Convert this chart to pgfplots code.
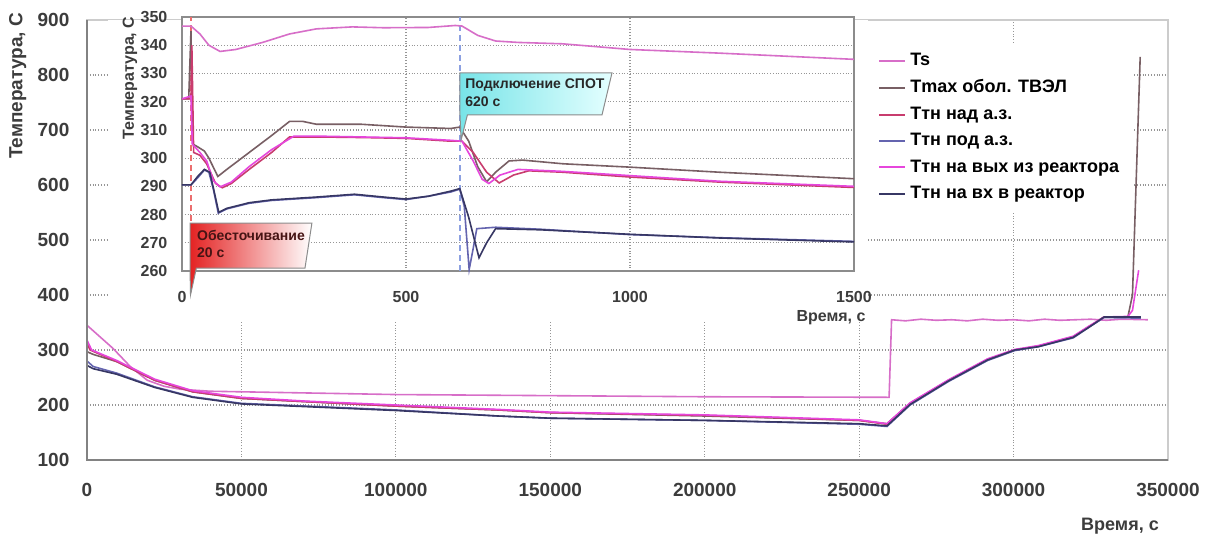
\documentclass[border=0pt]{standalone}
\usepackage{fontspec}
\setmainfont{Liberation Sans}
\usepackage{pgfplots}
\pgfplotsset{compat=1.18}

\definecolor{cTs}{RGB}{215,110,200}
\definecolor{cTmax}{RGB}{120,95,100}
\definecolor{cNad}{RGB}{200,60,110}
\definecolor{cPod}{RGB}{100,100,175}
\definecolor{cVyh}{RGB}{230,70,220}
\definecolor{cVh}{RGB}{55,55,100}
\definecolor{cGrid}{RGB}{150,150,150}
\definecolor{cFrame}{RGB}{140,140,140}
\definecolor{cTick}{RGB}{60,60,60}

\begin{document}
\begin{tikzpicture}
\useasboundingbox (-43.5pt,-38pt) rectangle (559.5pt,230pt);

% main chart, whole run
\begin{axis}[
  at={(0,0)}, anchor=south west,
  scale only axis, width=540.5pt, height=220pt,
  xmin=0, xmax=350000, ymin=100, ymax=900,
  xtick={0,50000,...,350000}, ytick={100,200,...,900},
  scaled x ticks=false,
  /pgf/number format/fixed,
  /pgf/number format/1000 sep={},
  /pgf/number format/assume math mode=true,
  grid=major, grid style={densely dotted, cGrid, line width=0.6pt},
  major tick length=0pt,
  axis line style={draw=gray!40, line width=0.8pt},
  clip=false,
  ticklabel style={font=\fontsize{9.5}{10}\selectfont\bfseries, text=cTick},
  xticklabel style={yshift=-8pt},
  yticklabel style={xshift=-5.3pt},
  xlabel={Время, с}, ylabel={Температура, С},
  label style={font=\fontsize{9}{10}\selectfont\bfseries, text=cTick},
  xlabel style={at={(axis description cs:0.9556,-0.15)}, anchor=center},
  ylabel style={at={(axis description cs:-0.064,0.85)}, anchor=center, font=\fontsize{9.5}{10}\selectfont\bfseries},
  legend style={at={(rel axis cs:0.7225,0.948)}, anchor=north west, draw=none, fill=white,
    font=\fontsize{9}{10}\selectfont\bfseries, inner xsep=5pt, inner ysep=3pt, row sep=1.5pt},
  legend cell align=left,
  legend image code/.code={\draw[#1, line width=1pt] (0pt,0pt) -- (13pt,0pt);},
  every axis plot/.append style={line width=0.8pt},
]
\fill[white] (rel axis cs:0.0194,0.3136) rectangle (rel axis cs:0.7225,1);

\addplot[cTs] coordinates {
(0,345)(3000,330)(8400,303)(14000,270)(19500,245)(25000,234)(30500,228.5)(40000,225)
(50000,224)(100000,219)(150000,217)(200000,215)(259000,214)(259700,214)(260500,355)
(265000,353)(270000,356)(275000,354)(280000,355)(285000,353)(290000,356)(295000,354)
(300000,355)(305000,353)(310000,356)(315000,354)(320000,355)(325000,356)(330000,354)
(335000,356)(343500,355)};
\addlegendentry{Ts}
\addplot[cTmax] coordinates {
(0,297)(2000,292)(9600,279)(21900,245)(34200,224)(50000,212)(71000,206)(100000,198)
(133000,191)(150000,186)(200000,180)(250000,172)(259000,166)(266500,203)(279000,245)
(291600,282)(300400,300)(308000,307)(319300,324)(324300,342)(329300,360)(337000,360)
(338500,400)(341000,833)};
\addlegendentry{Tmax обол. ТВЭЛ}
\addplot[cNad] coordinates {
(0,312)(1000,300)(9600,279)(21900,245)(34200,224)(50000,212)(71000,206)(100000,198)
(133000,191)(150000,186)(200000,181)(250000,172)(259000,165)(266500,203)(279000,245)
(291600,283)(300400,300)(308000,307)(319300,324)(324300,342)(329300,360)(341200,360)};
\addlegendentry{Ттн над а.з.}
\addplot[cPod] coordinates {
(0,280)(2000,270)(9600,258)(21900,233)(34200,215)(50000,203)(71000,198)(100000,191)
(133000,180)(150000,176)(200000,172)(250000,165)(259000,161)(266500,200)(279000,243)
(291600,281)(300400,299)(308000,306)(319300,322)(324300,341)(329300,359)(341200,358)};
\addlegendentry{Ттн под а.з.}
\addplot[cVyh] coordinates {
(0,318)(1500,300)(9600,281)(21900,247)(34200,226)(50000,214)(71000,207)(100000,200)
(133000,192)(150000,187)(200000,182)(250000,173)(259000,166)(266500,204)(279000,246)
(291600,284)(300400,301)(308000,308)(319300,325)(324300,343)(329300,360)(337000,361)
(338500,372)(340500,445)};
\addlegendentry{Ттн на вых из реактора}
\addplot[cVh] coordinates {
(0,272)(2000,266)(9600,256)(21900,232)(34200,214)(50000,202)(71000,197)(100000,190)
(133000,180)(150000,176)(200000,172)(250000,166)(259000,162)(266500,201)(279000,244)
(291600,282)(300400,300)(308000,306)(319300,323)(324300,341)(329300,360)(341200,360)};
\addlegendentry{Ттн на вх в реактор}

\draw[line width=1.3pt, color={rgb,255:red,130;green,130;blue,130}]
  (rel axis cs:0,1) -- (rel axis cs:0,0) -- (rel axis cs:1,0);
\end{axis}

% inset, first 1500 s
\begin{axis}[
  at={(47.5pt,94.5pt)}, anchor=south west,
  scale only axis, width=336pt, height=127pt,
  xmin=0, xmax=1500, ymin=260, ymax=350,
  xtick={0,500,1000,1500}, ytick={260,270,...,350},
  /pgf/number format/fixed,
  /pgf/number format/1000 sep={},
  /pgf/number format/assume math mode=true,
  axis background/.style={fill=white},
  grid=major, grid style={densely dotted, cGrid, line width=0.6pt},
  major tick length=0pt,
  axis line style={draw=cFrame, line width=1pt},
  clip=false,
  ticklabel style={font=\fontsize{8}{9}\selectfont\bfseries, text=cTick},
  xticklabel style={yshift=-6.5pt},
  yticklabel style={xshift=-3.8pt},
  xlabel={Время, с}, ylabel={Температура, С},
  label style={font=\fontsize{8}{9}\selectfont\bfseries, text=cTick},
  xlabel style={at={(axis description cs:0.9658,-0.185)}, anchor=center},
  ylabel style={at={(axis description cs:-0.0774,0.76)}, anchor=center},
  every axis plot/.append style={line width=0.8pt},
]
\addplot[forget plot, densely dashed, line width=0.9pt, color={rgb,255:red,235;green,110;blue,110}] coordinates {(20,260)(20,350)};
\addplot[forget plot, densely dashed, line width=0.9pt, color={rgb,255:red,140;green,160;blue,225}] coordinates {(620,260)(620,350)};

\addplot[cTs] coordinates {
(0,346.8)(20,346.8)(40,344)(60,340)(85,337.8)(120,338.5)(180,341)(240,344)(300,345.8)
(380,346.5)(450,346.2)(550,346.3)(610,347)(625,346.8)(660,343.5)(700,341.5)(750,341)
(850,340.5)(1000,338.5)(1200,337.2)(1500,335)};
\addplot[cTmax] coordinates {
(0,321)(15,321)(20,345)(24,305)(35,304)(50,302.5)(60,300)(80,293.5)(100,296)(150,302)
(200,308)(240,313)(270,313)(300,312)(400,312)(500,311)(600,310.5)(620,311)(640,306)
(660,297)(680,291.6)(700,295)(730,299)(760,299.3)(850,298)(1000,296.8)(1200,295)(1500,292.7)};
\addplot[cNad] coordinates {
(0,321)(20,321)(22,340)(26,302)(40,301)(55,298)(75,291)(90,289.5)(110,291)(150,296)
(200,302)(240,307.5)(300,307.5)(400,307.3)(500,307)(600,306)(625,306)(650,302)(680,295)
(708,291.2)(740,294)(774,295.5)(850,295)(1000,293.3)(1200,291.5)(1500,289.6)};
\addplot[cPod] coordinates {
(0,290.5)(20,290.5)(35,293)(50,295.8)(60,295)(70,289)(81,280.5)(100,282)(150,284)(200,285)
(300,286)(385,287)(450,286)(500,285.3)(550,286.5)(600,288)(620,289)(630,283)(641,260.5)
(650,268)(658,275)(700,275.5)(800,274.8)(1000,272.9)(1200,271.8)(1500,270.5)};
\addplot[cVyh] coordinates {
(0,321)(20,322)(23,305)(40,302)(55,299)(70,292)(85,289.8)(110,291.5)(150,297)(200,303)
(250,307.8)(300,307.8)(400,307.5)(500,307.2)(600,306.3)(625,306)(650,299)(670,292.5)
(685,291)(710,294)(750,296)(850,295.3)(1000,293.8)(1200,291.8)(1500,290)};
\addplot[cVh] coordinates {
(0,290.5)(20,290.5)(35,293.5)(50,296)(62,295)(72,288)(82,280.8)(100,282.2)(150,284.2)
(200,285.2)(300,286.2)(385,287.2)(450,286.2)(500,285.5)(550,286.5)(600,288.3)(620,289.2)
(640,279)(663,264.7)(680,270)(700,275)(800,274.6)(1000,273)(1200,271.7)(1500,270.3)};

% callouts
\path[draw=cFrame, line width=0.5pt, left color={rgb,255:red,228;green,35;blue,35}, right color=white]
  (axis cs:17.9,277) -- (axis cs:290,277) -- (axis cs:274.5,261) -- (axis cs:32,261)
  -- (axis cs:19,251.5) -- (axis cs:17.9,261) -- cycle;
\node[anchor=west, inner sep=0pt, font=\fontsize{7}{8}\selectfont\bfseries, text={rgb,255:red,70;green,20;blue,20}]
  at (axis cs:33,272.6) {Обесточивание};
\node[anchor=west, inner sep=0pt, font=\fontsize{7}{8}\selectfont\bfseries, text={rgb,255:red,70;green,20;blue,20}]
  at (axis cs:33,266.6) {20 с};

\path[draw=cFrame, line width=0.5pt, left color={rgb,255:red,120;green,228;blue,232}, right color={rgb,255:red,228;green,255;blue,255}]
  (axis cs:620.5,330.2) -- (axis cs:959.8,330.2) -- (axis cs:937.5,315.3) -- (axis cs:637,315.3)
  -- (axis cs:623,306.4) -- (axis cs:620.5,315.3) -- cycle;
\node[anchor=west, inner sep=0pt, font=\fontsize{7}{8}\selectfont\bfseries, text={rgb,255:red,40;green,40;blue,40}]
  at (axis cs:631.7,325.9) {Подключение СПОТ};
\node[anchor=west, inner sep=0pt, font=\fontsize{7}{8}\selectfont\bfseries, text={rgb,255:red,40;green,40;blue,40}]
  at (axis cs:631.7,319.9) {620 с};
\end{axis}
\end{tikzpicture}
\end{document}
